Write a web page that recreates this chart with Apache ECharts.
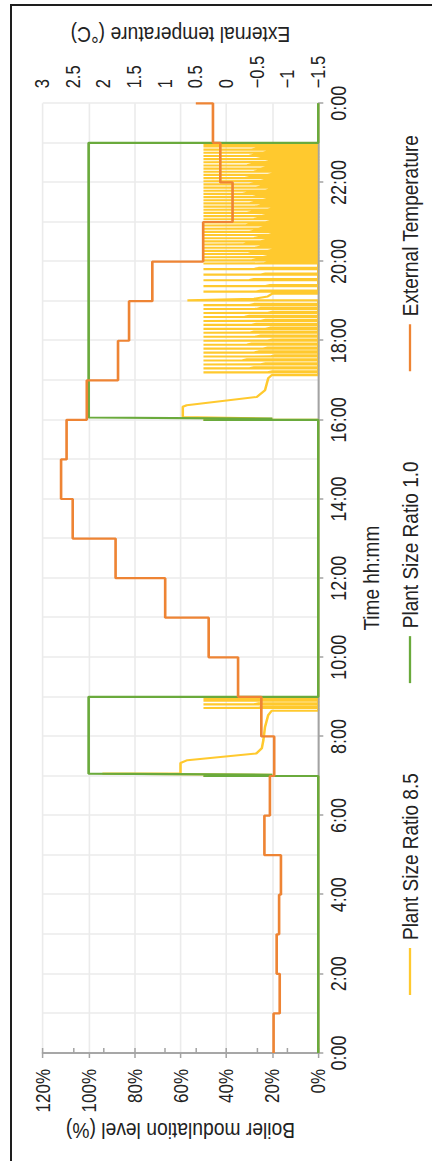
<!DOCTYPE html>
<html>
<head>
<meta charset="utf-8">
<script src="https://cdn.jsdelivr.net/npm/echarts@6/dist/echarts.min.js"></script>
<style>
  html, body { margin: 0; padding: 0; background: #fff; }
  #page { position: relative; width: 432px; height: 1161px; overflow: hidden; background: #fff; }
  #frame { position: absolute; left: 10px; top: 4px; width: 600px; height: 1300px;
           border-left: 2.5px solid #1e1e1e; border-top: 2.5px solid #1e1e1e; }
  /* landscape chart, turned a quarter turn counter-clockwise; the short side is
     stretched 1.2x so the sans text gets the tall, narrow look of the figure font */
  #chart { position: absolute; left: 0; top: 1161px; width: 1161px; height: 360px;
           transform-origin: 0 0; transform: rotate(-90deg) scaleY(1.2); }
</style>
</head>
<body>
<div id="page"><div id="frame"></div><div id="chart"></div></div>
<script>
// ---- data -------------------------------------------------------------
// hourly outdoor temperature (°C), value holds until the next hour
const tempHours = [0,1,2,3,4,5,6,7,8,9,10,11,12,13,14,15,16,17,18,19,20,21,22,23,24];
const tempValues = [-0.77,-0.87,-0.82,-0.86,-0.89,-0.62,-0.71,-0.78,-0.57,-0.19,0.29,1.00,1.81,2.51,2.70,2.61,2.28,1.77,1.59,1.21,0.38,-0.10,0.10,0.22,0.50];

// Plant Size Ratio 1.0 : boiler modulation [hour, %]
const ratio10 = [[0,0],[7.0,0],[7.0,50],[7.03,20],[7.06,100],[9.0,100],[9.0,0],
                 [16.0,0],[16.0,50],[16.03,20],[16.06,100],[23.0,100],[23.0,0],[24,0]];

// Plant Size Ratio 8.5 : start-up transients [hour, %]
const ratio85Morning = [[0,0],[7.0,0],[7.0,50],[7.03,20],[7.06,94],[7.07,60],[7.33,60],[7.40,57],
                        [7.57,27],[7.70,24.6],[7.91,23.9],[8.24,23.2],[8.54,21.8],[8.65,20.3],[8.65,0]];
const ratio85Afternoon = [[9.0,0],[16.0,0],[16.0,50],[16.03,20],[16.07,59],[16.33,59],[16.37,57.3],
                          [16.58,26.8],[16.75,23.2],[17.05,21.8],[17.13,20.3],[17.13,0]];
const ratio85Evening = [[19.02,0],[19.02,57],[19.06,28],[19.12,22],[19.19,20],[19.19,0]];
const ratio85End = [[23.0,0],[24,0]];

// Plant Size Ratio 8.5 : on/off cycling
// [switch-on hour, switch-off hour, level the burner settles to (%)]
const cyclePeak = 50;
const cyclesMorning = [[8.72,8.75,26],[8.81,8.84,28],[8.90,8.93,30],[8.95,8.99,32]];
const cyclesLateAfternoon = [
  [17.20,17.23,22],[17.30,17.33,30],[17.40,17.43,25],[17.50,17.53,33],[17.60,17.63,21],
  [17.70,17.73,28],[17.80,17.83,24],[17.90,17.93,31],[18.00,18.03,22],[18.10,18.13,27],
  [18.20,18.23,30],[18.30,18.33,23],[18.40,18.43,29],[18.50,18.53,25],[18.60,18.63,32],
  [18.70,18.73,22],[18.80,18.83,27],[18.90,18.93,30]];
const cyclesEarlyEvening = [[19.24,19.27,27],[19.38,19.41,23],[19.53,19.56,30],
                            [19.67,19.70,25],[19.81,19.84,28],[19.95,19.98,24]];
const cyclesNight = [
  [20.03,20.06,29],[20.11,20.14,24],[20.19,20.22,31],[20.27,20.30,22],[20.35,20.38,27],
  [20.43,20.46,33],[20.51,20.54,25],[20.59,20.62,28],[20.67,20.70,22],[20.75,20.78,30],
  [20.83,20.86,26],[20.91,20.94,32],[20.99,21.02,23],[21.07,21.10,28],[21.15,21.18,25],
  [21.23,21.26,31],[21.31,21.34,22],[21.39,21.42,27],[21.47,21.50,30],[21.55,21.58,24],
  [21.63,21.66,29],[21.71,21.74,33],[21.79,21.82,23],[21.87,21.90,27],[21.95,21.98,30],
  [22.03,22.06,25],[22.11,22.14,32],[22.19,22.22,22],[22.27,22.30,28],[22.35,22.38,25],
  [22.43,22.46,31],[22.51,22.54,23],[22.59,22.62,27],[22.67,22.70,30],[22.75,22.78,24],
  [22.83,22.86,29],[22.91,22.94,26],[22.96,22.99,31]];

// ---- build series points ----------------------------------------------
function cyclePoints(cycles) {
  const pts = [];
  cycles.forEach(([on, off, level]) => {
    pts.push([on, 0], [on, cyclePeak], [on + 0.004, level], [off, level - 2], [off, 0]);
  });
  return pts;
}
const ratio85 = [].concat(
  ratio85Morning, cyclePoints(cyclesMorning), ratio85Afternoon,
  cyclePoints(cyclesLateAfternoon), ratio85Evening, cyclePoints(cyclesEarlyEvening),
  cyclePoints(cyclesNight), ratio85End);
const tempSeries = tempHours.map((h, i) => [h, tempValues[i]]);

// ---- chart -------------------------------------------------------------
const K = 1.2;                      // stretch of the short side (see CSS)
const v = px => px / K;             // short-side distance before the stretch
const FONT = "'Liberation Sans', Arial, Helvetica, sans-serif";
const INK = '#222';
const AXIS_GREY = '#a3a3a3';
const GRID_GREY = '#ebebeb';
const C_YELLOW = '#ffc92e', C_GREEN = '#6aaa3c', C_ORANGE = '#ee8434';

const chart = echarts.init(document.getElementById('chart'), null, { renderer: 'svg' });
chart.setOption({
  animation: false,
  backgroundColor: 'transparent',
  textStyle: { fontFamily: FONT, color: INK },
  grid: { left: 108, right: 103.3, top: v(42.7), bottom: 360 - v(318.3), containLabel: false },
  legend: {
    left: 166, top: v(410) - 9.5, padding: 0, itemWidth: 47, itemHeight: v(2.3), itemGap: 90, icon: 'rect',
    textStyle: { fontFamily: FONT, fontSize: 19, color: INK, padding: [0, 0, 0, 3] },
    data: ['Plant Size Ratio 8.5', 'Plant Size Ratio 1.0', 'External Temperature']
  },
  xAxis: [
    {
      type: 'value', min: 0, max: 24, interval: 2, z: 0,
      name: 'Time hh:mm', nameLocation: 'middle', nameGap: 34,
      nameTextStyle: { fontFamily: FONT, fontSize: 19, color: INK },
      axisLine: { show: true, onZero: false, lineStyle: { color: AXIS_GREY, width: v(1.6) } },
      axisTick: { show: true, length: v(5), lineStyle: { color: AXIS_GREY, width: 1.5 } },
      axisLabel: { fontFamily: FONT, fontSize: 18, color: INK, margin: 7.5,
                   formatter: h => (h % 24) + ':00' },
      splitLine: { show: true, lineStyle: { color: GRID_GREY, width: 1.6 } },
      minorTick: { show: false, splitNumber: 2 },
      minorSplitLine: { show: true, lineStyle: { color: GRID_GREY, width: 1.6 } }
    },
    {
      // zero line drawn again above the cycling trace
      type: 'value', min: 0, max: 24, interval: 2, z: 2, position: 'bottom',
      axisLine: { show: true, onZero: false, lineStyle: { color: AXIS_GREY, width: v(1.6) } },
      axisTick: { show: false }, axisLabel: { show: false }, splitLine: { show: false }
    }
  ],
  yAxis: [
    {
      type: 'value', min: 0, max: 120, interval: 20, position: 'left',
      axisLine: { show: true, lineStyle: { color: AXIS_GREY, width: 1.6 } },
      axisTick: { show: true, length: 5, lineStyle: { color: AXIS_GREY, width: v(1.5) } },
      axisLabel: { fontFamily: FONT, fontSize: 17, color: INK, margin: 16, formatter: '{value}%' },
      splitLine: { show: true, lineStyle: { color: GRID_GREY, width: v(1.6) } }
    },
    {
      type: 'value', min: -1.5, max: 3, interval: 0.5, position: 'right',
      axisLine: { show: true, lineStyle: { color: AXIS_GREY, width: 1.6 } },
      axisTick: { show: true, length: 5, lineStyle: { color: AXIS_GREY, width: v(1.5) } },
      axisLabel: { fontFamily: FONT, fontSize: 16.5, color: INK, margin: 15,
                   formatter: t => (t < 0 ? '\u2212' + Math.abs(t) : String(t)) },
      splitLine: { show: false }
    }
  ],
  // vertical axis titles, narrowed along the reading direction
  graphic: [
    {
      type: 'text', x: 30, y: v(180.5), rotation: Math.PI / 2, scaleX: 0.73, scaleY: 1,
      style: { text: 'Boiler modulation level (%)', fontFamily: FONT, fontSize: 22, fill: INK,
               align: 'center', verticalAlign: 'middle' }
    },
    {
      type: 'text', x: 1126, y: v(180.5), rotation: Math.PI / 2, scaleX: 0.73, scaleY: 1,
      style: { text: 'External temperature (°C)', fontFamily: FONT, fontSize: 22, fill: INK,
               align: 'center', verticalAlign: 'middle' }
    }
  ],
  series: [
    {
      name: 'Plant Size Ratio 8.5', type: 'line', data: ratio85, z: 1,
      symbol: 'none', lineStyle: { color: C_YELLOW, width: 2.1 }, itemStyle: { color: C_YELLOW }
    },
    {
      name: 'Plant Size Ratio 1.0', type: 'line', data: ratio10, z: 3,
      symbol: 'none', lineStyle: { color: C_GREEN, width: 2.2 }, itemStyle: { color: C_GREEN }
    },
    {
      name: 'External Temperature', type: 'line', data: tempSeries, yAxisIndex: 1, z: 4,
      step: 'end', symbol: 'none', lineStyle: { color: C_ORANGE, width: 2.2 }, itemStyle: { color: C_ORANGE }
    }
  ]
});
</script>
</body>
</html>
